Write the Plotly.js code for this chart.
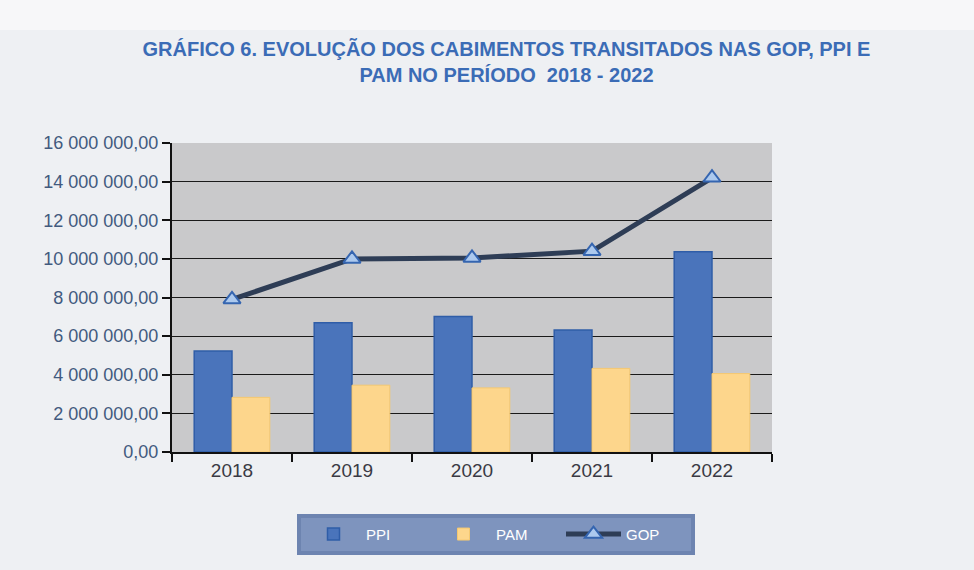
<!DOCTYPE html>
<html>
<head>
<meta charset="utf-8">
<script src="https://cdn.plot.ly/plotly-3.0.1.min.js"></script>
<style>html,body{margin:0;padding:0;background:#eef0f3;}#chart{width:974px;height:570px;}</style>
</head>
<body>
<div id="chart"></div>
<script>
const years = ['2018', '2019', '2020', '2021', '2022'];
const ppi = [5230000, 6690000, 7020000, 6320000, 10370000];
const pam = [2830000, 3460000, 3320000, 4330000, 4060000];
const gop = [7900000, 10000000, 10050000, 10400000, 14200000];
const yTickVals = [0, 2000000, 4000000, 6000000, 8000000, 10000000, 12000000, 14000000, 16000000];
const yTickText = ['0,00', '2 000 000,00', '4 000 000,00', '6 000 000,00', '8 000 000,00', '10 000 000,00', '12 000 000,00', '14 000 000,00', '16 000 000,00'];
const titleText = 'GRÁFICO 6. EVOLUÇÃO DOS CABIMENTOS TRANSITADOS NAS GOP, PPI E<br>PAM NO PERÍODO  2018 - 2022';

const traces = [
  {type: 'bar', name: 'PPI', x: years, y: ppi,
   marker: {color: '#4a74bb', line: {color: '#2f5da8', width: 1.5}}},
  {type: 'bar', name: 'PAM', x: years, y: pam,
   marker: {color: '#fdd68c', line: {color: '#f5c870', width: 1}}},
  {type: 'scatter', mode: 'lines+markers', name: 'GOP', x: years, y: gop,
   line: {color: '#2e3d56', width: 5},
   marker: {symbol: 'triangle-up', size: 15, color: '#acc9ee', line: {color: '#3565b0', width: 2}}}
];

const layout = {
  width: 974, height: 570,
  paper_bgcolor: '#eef0f3',
  plot_bgcolor: '#c9c9cb',
  margin: {l: 172, r: 202, t: 143, b: 118},
  barmode: 'group', bargap: 0.37, bargroupgap: 0,
  title: {text: titleText, x: 0.52, xanchor: 'center', y: 0.902, yanchor: 'top',
          font: {family: '"Liberation Sans", Arial, sans-serif', size: 20, color: '#3b6cb6', weight: 'bold'}},
  xaxis: {type: 'category', showgrid: false, showline: true, linecolor: '#111', linewidth: 2,
          ticks: 'outside', tickson: 'boundaries', ticklen: 8, tickcolor: '#111', tickwidth: 2,
          tickfont: {family: '"Liberation Sans", Arial, sans-serif', size: 19, color: '#3a3a44'}},
  yaxis: {range: [0, 16000000], tickvals: yTickVals, ticktext: yTickText,
          showgrid: true, gridcolor: '#1a1a1a', gridwidth: 1.2,
          showline: true, linecolor: '#111', linewidth: 2, zeroline: false,
          ticks: 'outside', ticklen: 8, tickcolor: '#111', tickwidth: 2,
          tickfont: {family: '"Liberation Sans", Arial, sans-serif', size: 18, color: '#425a7e'}},
  legend: {orientation: 'h', x: 0.54, xanchor: 'center', y: -0.2, yanchor: 'top',
           bgcolor: '#7e94be', bordercolor: '#6d84b0', borderwidth: 4,
           font: {family: '"Liberation Sans", Arial, sans-serif', size: 15, color: '#ffffff'},
           itemwidth: 55, entrywidth: 60},
  shapes: [
    {type: 'rect', xref: 'paper', yref: 'paper', x0: -0.3, x1: 1.4, y0: 1.366, y1: 1.5,
     fillcolor: '#f7f7f9', line: {width: 0}, layer: 'below'}
  ],
  showlegend: true
};

Plotly.newPlot('chart', traces, layout, {displayModeBar: false});
</script>
</body>
</html>
